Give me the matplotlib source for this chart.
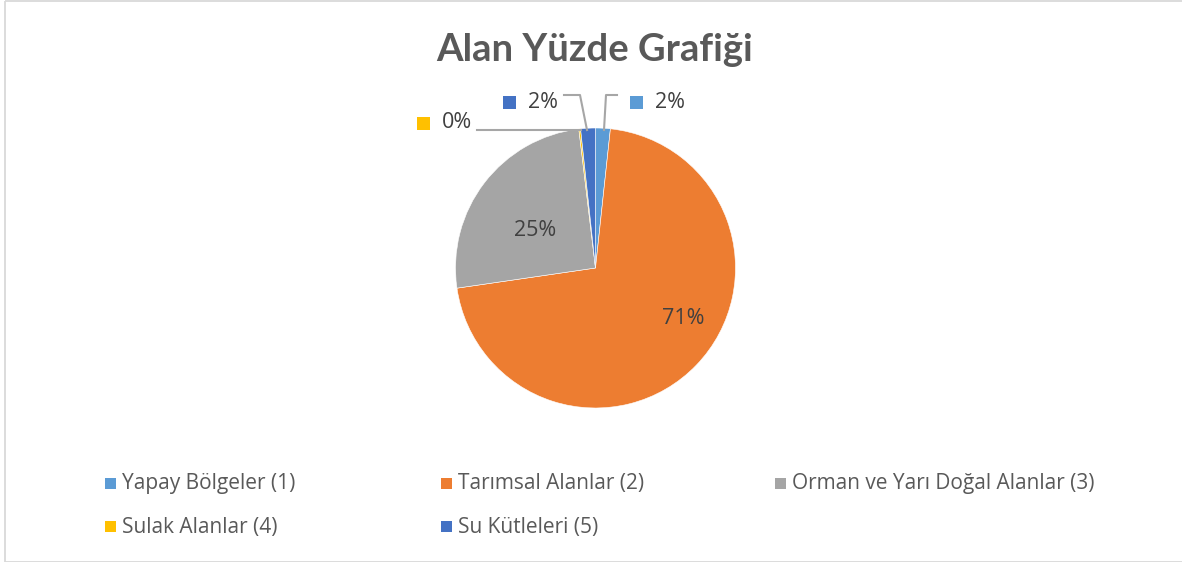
import matplotlib.pyplot as plt
from matplotlib.patches import Rectangle

# Veriler
kategoriler = ['Yapay Bölgeler (1)', 'Tarımsal Alanlar (2)', 'Orman ve Yarı Doğal Alanlar (3)',
               'Sulak Alanlar (4)', 'Su Kütleleri (5)']
yuzdeler = [1.7, 71.0, 25.4, 0.2, 1.7]
renkler = ['#5B9BD5', '#ED7D31', '#A5A5A5', '#FFC000', '#4472C4']

W, H = 1182, 562
plt.rcParams['font.family'] = ['Open Sans', 'DejaVu Sans']

fig = plt.figure(figsize=(W / 100, H / 100), dpi=100)
ax = fig.add_axes([0, 0, 1, 1])

# pasta: y ekseni ters oldugu icin counterclock=True saat yonunde cizer
ax.pie(yuzdeler, colors=renkler, center=(595.5, 268), radius=140,
       startangle=-90, counterclock=True, frame=True,
       wedgeprops=dict(linewidth=0.4, edgecolor='white'))
ax.set_xlim(0, W)
ax.set_ylim(H, 0)
ax.set_aspect('equal')
ax.axis('off')

# cerceve
ax.add_patch(Rectangle((4.5, 1), W, H - 1.5, fill=False, edgecolor='#D9D9D9', lw=1.3))

ax.text(595, 50, 'Alan Yüzde Grafiği', ha='center', va='center',
        fontsize=27.5, fontweight='bold', color='#595959', family=['Lato', 'DejaVu Sans'])

gri = '#A6A6A6'
yazi = '#404040'


def etiket(idx, mx, my, tx):
    ax.add_patch(Rectangle((mx, my - 6.5), 13, 13, color=renkler[idx], lw=0))
    ax.text(tx, my, f'{round(yuzdeler[idx])}%', ha='left', va='center',
            fontsize=15.5, color=yazi)


# dis etiketler ve kilavuz cizgiler
ax.plot([604, 606, 617], [130, 95, 95], color=gri, lw=1.5)
etiket(0, 630, 102, 655)
ax.plot([587, 580, 564], [130, 95, 95], color=gri, lw=1.5)
etiket(4, 503, 102, 528)
ax.plot([477, 581], [130, 130], color=gri, lw=1.5)
etiket(3, 417, 123, 442)

# ic etiketler
etiket(2, 489, 230, 514)
etiket(1, 637, 318, 662)

# lejant
lejant = [(110, 484), (446, 484), (780, 484), (110, 527), (446, 527)]
for i, (lx, ly) in enumerate(lejant):
    ax.add_patch(Rectangle((lx - 5, ly - 6), 11, 11, color=renkler[i], lw=0))
    ax.text(lx + 12, ly, kategoriler[i], ha='left', va='center',
            fontsize=15, color='#595959')

fig.savefig('out.png', dpi=100)
